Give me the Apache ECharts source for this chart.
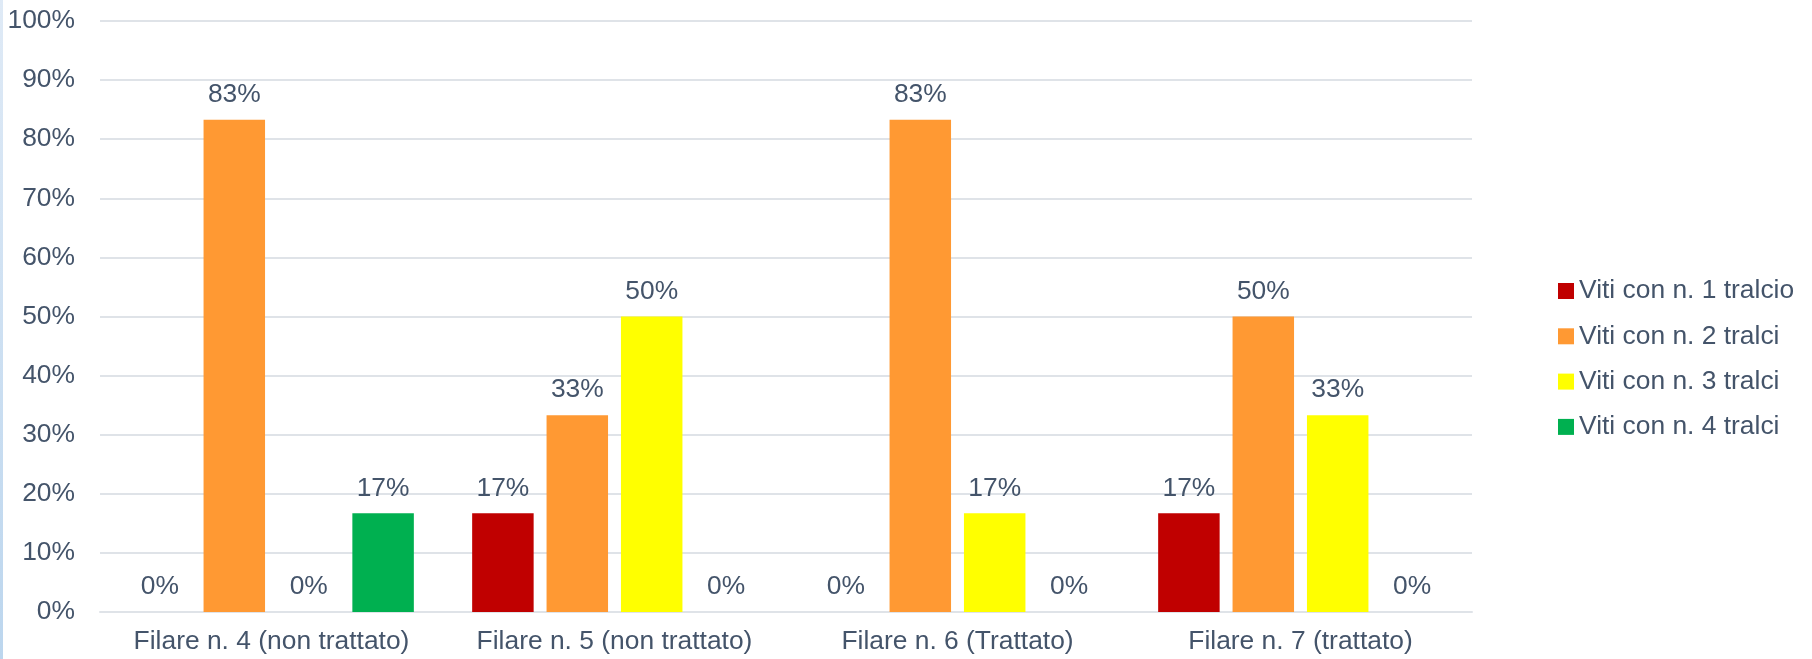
<!DOCTYPE html>
<html>
<head>
<meta charset="utf-8">
<script src="https://cdn.jsdelivr.net/npm/echarts@6/dist/echarts.min.js"></script>
<style>
html,body{margin:0;padding:0;background:#fff;}
#strip{position:absolute;left:0;top:0;width:3px;height:659px;background:linear-gradient(#dfeaf6,#bcd6ee);}
#chart{position:absolute;left:0;top:0;width:1812px;height:659px;}
</style>
</head>
<body>
<div id="chart"></div>
<div id="strip"></div>
<script>
const categories = ["Filare n. 4 (non trattato)", "Filare n. 5 (non trattato)", "Filare n. 6 (Trattato)", "Filare n. 7 (trattato)"];
const seriesNames = ["Viti con n. 1 tralcio", "Viti con n. 2 tralci", "Viti con n. 3 tralci", "Viti con n. 4 tralci"];
const tralci1 = [0, 16.7, 0, 16.7];
const tralci2 = [83.3, 33.3, 83.3, 50];
const tralci3 = [0, 50, 16.7, 33.3];
const tralci4 = [16.7, 0, 0, 0];
const colors = ["#C00000", "#FF9933", "#FFFF00", "#00B050"];

const textColor = "#44546A";
const font = "Liberation Sans, Arial, sans-serif";
const fs = 26.4;
const values = [tralci1, tralci2, tralci3, tralci4];

const chart = echarts.init(document.getElementById('chart'), null, {renderer: 'canvas'});
chart.setOption({
  animation: false,
  backgroundColor: '#ffffff',
  grid: {left: 100, right: 340, top: 21, bottom: 47, containLabel: false},
  legend: {
    orient: 'vertical',
    left: 1553,
    top: 273,
    itemWidth: 16,
    itemHeight: 16,
    itemGap: 19.3,
    icon: 'rect',
    textStyle: {color: textColor, fontSize: fs, fontFamily: font, padding: [8,0,0,0]},
    data: seriesNames
  },
  xAxis: {
    type: 'category',
    data: categories,
    axisLine: {show: true, lineStyle: {color: '#dfe3e8', width: 2}},
    axisTick: {show: false},
    axisLabel: {color: textColor, fontSize: fs, fontFamily: font, margin: 17, interval: 0}
  },
  yAxis: {
    type: 'value',
    min: 0, max: 100, interval: 10,
    axisLine: {show: false},
    axisTick: {show: false},
    axisLabel: {color: textColor, fontSize: fs, fontFamily: font, margin: 25, formatter: v => v + '%'},
    splitLine: {lineStyle: {color: '#dfe3e8', width: 2}}
  },
  series: seriesNames.map((name, i) => ({
    name: name,
    type: 'bar',
    data: values[i],
    itemStyle: {color: colors[i]},
    barGap: '21%',
    barCategoryGap: '17%',
    label: {
      show: true,
      position: 'top',
      distance: 12,
      color: textColor,
      fontSize: fs,
      fontFamily: font,
      formatter: p => Math.round(p.value) + '%'
    }
  }))
});
</script>
</body>
</html>
